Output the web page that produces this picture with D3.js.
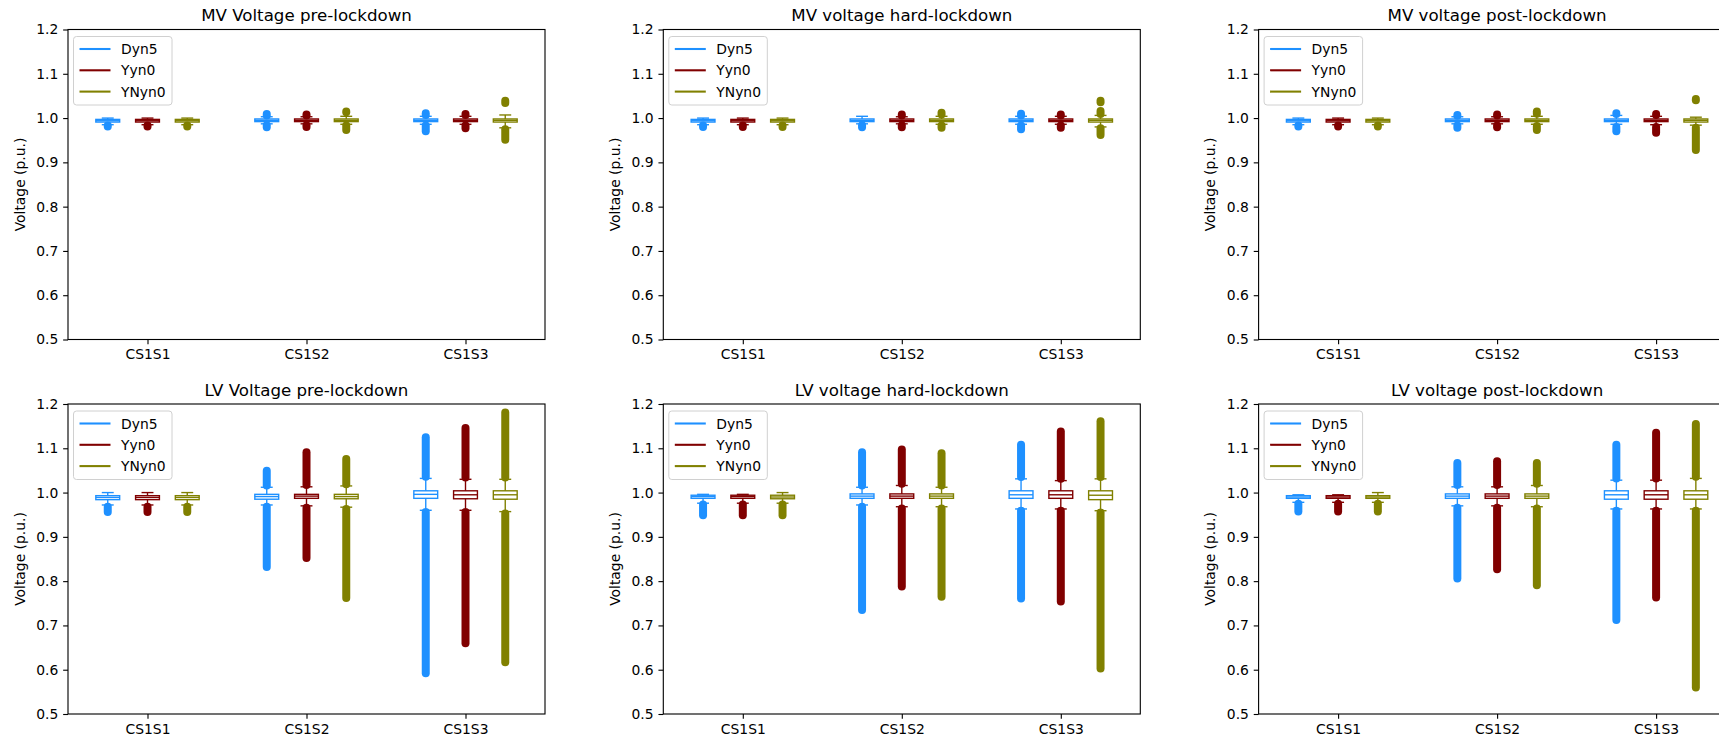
<!DOCTYPE html>
<html>
<head>
<meta charset="utf-8">
<script src="https://cdn.jsdelivr.net/npm/d3@7"></script>
<style>
  body { margin: 0; background: #fff; }
  svg { display: block; }
  text { font-family: "DejaVu Sans", sans-serif; fill: #000; }
</style>
</head>
<body>
<svg id="fig" width="1719" height="740"></svg>
<script>
// ---- data -------------------------------------------------------------
const categories = ["CS1S1", "CS1S2", "CS1S3"];
const transformers = ["Dyn5", "Yyn0", "YNyn0"];
const seriesColors = ["#1e90ff", "#800000", "#808000"];
const yTicks = [0.5, 0.6, 0.7, 0.8, 0.9, 1.0, 1.1, 1.2];
const panelTitles = [
  "MV Voltage pre-lockdown", "MV voltage hard-lockdown", "MV voltage post-lockdown",
  "LV Voltage pre-lockdown", "LV voltage hard-lockdown", "LV voltage post-lockdown"
];

// box statistics: [category, transformer, whiskerLow, q1, median, q3, whiskerHigh]
const mvPreBoxes = [
  [0, 0, 0.985, 0.991, 0.994, 0.997, 1.000],
  [0, 1, 0.985, 0.991, 0.994, 0.997, 1.000],
  [0, 2, 0.985, 0.991, 0.994, 0.997, 1.000],
  [1, 0, 0.987, 0.992, 0.995, 0.998, 1.003],
  [1, 1, 0.987, 0.992, 0.995, 0.998, 1.003],
  [1, 2, 0.986, 0.992, 0.995, 0.998, 1.004],
  [2, 0, 0.986, 0.992, 0.995, 0.998, 1.004],
  [2, 1, 0.986, 0.992, 0.995, 0.998, 1.004],
  [2, 2, 0.978, 0.991, 0.995, 0.998, 1.007]
];
const mvHardBoxes = [
  [0, 0, 0.985, 0.991, 0.994, 0.997, 1.000],
  [0, 1, 0.985, 0.991, 0.994, 0.997, 1.000],
  [0, 2, 0.985, 0.991, 0.994, 0.997, 1.000],
  [1, 0, 0.987, 0.992, 0.995, 0.998, 1.004],
  [1, 1, 0.987, 0.992, 0.995, 0.998, 1.003],
  [1, 2, 0.986, 0.992, 0.995, 0.998, 1.004],
  [2, 0, 0.986, 0.992, 0.995, 0.998, 1.004],
  [2, 1, 0.986, 0.992, 0.995, 0.998, 1.004],
  [2, 2, 0.980, 0.991, 0.995, 0.998, 1.006]
];
const mvPostBoxes = [
  [0, 0, 0.985, 0.991, 0.994, 0.997, 1.000],
  [0, 1, 0.985, 0.991, 0.994, 0.997, 1.000],
  [0, 2, 0.985, 0.991, 0.994, 0.997, 1.000],
  [1, 0, 0.987, 0.992, 0.995, 0.998, 1.003],
  [1, 1, 0.987, 0.992, 0.995, 0.998, 1.003],
  [1, 2, 0.986, 0.992, 0.995, 0.998, 1.004],
  [2, 0, 0.986, 0.992, 0.995, 0.998, 1.006],
  [2, 1, 0.985, 0.992, 0.995, 0.998, 1.004],
  [2, 2, 0.984, 0.991, 0.995, 0.998, 1.002]
];
const lvPreBoxes = [
  [0, 0, 0.972, 0.984, 0.989, 0.993, 1.000],
  [0, 1, 0.972, 0.984, 0.989, 0.993, 1.000],
  [0, 2, 0.972, 0.984, 0.989, 0.993, 1.000],
  [1, 0, 0.972, 0.985, 0.991, 0.996, 1.012],
  [1, 1, 0.970, 0.987, 0.992, 0.996, 1.013],
  [1, 2, 0.967, 0.986, 0.991, 0.996, 1.015],
  [2, 0, 0.960, 0.987, 0.996, 1.004, 1.032],
  [2, 1, 0.960, 0.986, 0.995, 1.004, 1.030],
  [2, 2, 0.957, 0.985, 0.995, 1.004, 1.030]
];
const lvHardBoxes = [
  [0, 0, 0.976, 0.987, 0.991, 0.994, 0.996],
  [0, 1, 0.976, 0.987, 0.991, 0.994, 0.996],
  [0, 2, 0.976, 0.986, 0.990, 0.994, 1.000],
  [1, 0, 0.972, 0.987, 0.992, 0.997, 1.012],
  [1, 1, 0.968, 0.987, 0.992, 0.997, 1.016],
  [1, 2, 0.968, 0.987, 0.992, 0.997, 1.012],
  [2, 0, 0.963, 0.987, 0.995, 1.004, 1.031],
  [2, 1, 0.963, 0.987, 0.995, 1.004, 1.027],
  [2, 2, 0.959, 0.984, 0.994, 1.004, 1.031]
];
const lvPostBoxes = [
  [0, 0, 0.978, 0.987, 0.990, 0.993, 0.995],
  [0, 1, 0.978, 0.987, 0.990, 0.993, 0.995],
  [0, 2, 0.978, 0.987, 0.990, 0.993, 1.000],
  [1, 0, 0.970, 0.987, 0.992, 0.997, 1.013],
  [1, 1, 0.970, 0.987, 0.992, 0.997, 1.013],
  [1, 2, 0.968, 0.987, 0.992, 0.997, 1.016],
  [2, 0, 0.963, 0.985, 0.995, 1.004, 1.028],
  [2, 1, 0.963, 0.985, 0.995, 1.004, 1.028],
  [2, 2, 0.963, 0.985, 0.995, 1.004, 1.032]
];

// outlier runs (dense flier markers): [category, transformer, low, high]
const mvPreOutliers = [
  [0, 0, 0.981, 0.983], [0, 1, 0.981, 0.983], [0, 2, 0.981, 0.983],
  [1, 0, 1.006, 1.009], [1, 0, 0.979, 0.984],
  [1, 1, 1.006, 1.008], [1, 1, 0.980, 0.984],
  [1, 2, 1.013, 1.015], [1, 2, 0.973, 0.983],
  [2, 0, 1.007, 1.011], [2, 0, 0.970, 0.983],
  [2, 1, 1.007, 1.009], [2, 1, 0.977, 0.983],
  [2, 2, 1.034, 1.039], [2, 2, 0.951, 0.975]
];
const mvHardOutliers = [
  [0, 0, 0.980, 0.983], [0, 1, 0.980, 0.983], [0, 2, 0.980, 0.983],
  [1, 0, 0.979, 0.984],
  [1, 1, 1.006, 1.008], [1, 1, 0.979, 0.984],
  [1, 2, 1.008, 1.012], [1, 2, 0.978, 0.983],
  [2, 0, 1.006, 1.010], [2, 0, 0.975, 0.983],
  [2, 1, 1.006, 1.008], [2, 1, 0.978, 0.983],
  [2, 2, 1.036, 1.039], [2, 2, 1.009, 1.016], [2, 2, 0.962, 0.977]
];
const mvPostOutliers = [
  [0, 0, 0.981, 0.983], [0, 1, 0.981, 0.983], [0, 2, 0.981, 0.983],
  [1, 0, 1.005, 1.007], [1, 0, 0.978, 0.983],
  [1, 1, 1.006, 1.008], [1, 1, 0.979, 0.983],
  [1, 2, 1.010, 1.015], [1, 2, 0.973, 0.982],
  [2, 0, 1.009, 1.011], [2, 0, 0.970, 0.980],
  [2, 1, 1.007, 1.009], [2, 1, 0.967, 0.980],
  [2, 2, 1.040, 1.043], [2, 2, 0.928, 0.978]
];
const lvPreOutliers = [
  [0, 0, 0.956, 0.968], [0, 1, 0.956, 0.968], [0, 2, 0.956, 0.968],
  [1, 0, 1.016, 1.049], [1, 0, 0.832, 0.968],
  [1, 1, 1.017, 1.091], [1, 1, 0.852, 0.966],
  [1, 2, 1.019, 1.076], [1, 2, 0.762, 0.963],
  [2, 0, 1.036, 1.125], [2, 0, 0.592, 0.956],
  [2, 1, 1.034, 1.146], [2, 1, 0.660, 0.956],
  [2, 2, 1.034, 1.181], [2, 2, 0.617, 0.953]
];
const lvHardOutliers = [
  [0, 0, 0.949, 0.973], [0, 1, 0.949, 0.973], [0, 2, 0.949, 0.973],
  [1, 0, 1.016, 1.091], [1, 0, 0.735, 0.968],
  [1, 1, 1.020, 1.097], [1, 1, 0.788, 0.964],
  [1, 2, 1.016, 1.089], [1, 2, 0.765, 0.964],
  [2, 0, 1.035, 1.108], [2, 0, 0.761, 0.959],
  [2, 1, 1.031, 1.138], [2, 1, 0.754, 0.959],
  [2, 2, 1.035, 1.161], [2, 2, 0.603, 0.955]
];
const lvPostOutliers = [
  [0, 0, 0.957, 0.975], [0, 1, 0.957, 0.975], [0, 2, 0.957, 0.975],
  [1, 0, 1.017, 1.067], [1, 0, 0.806, 0.966],
  [1, 1, 1.017, 1.071], [1, 1, 0.827, 0.966],
  [1, 2, 1.020, 1.067], [1, 2, 0.791, 0.964],
  [2, 0, 1.032, 1.108], [2, 0, 0.712, 0.959],
  [2, 1, 1.032, 1.135], [2, 1, 0.763, 0.959],
  [2, 2, 1.036, 1.155], [2, 2, 0.560, 0.959]
];

const panelBoxes = [mvPreBoxes, mvHardBoxes, mvPostBoxes, lvPreBoxes, lvHardBoxes, lvPostBoxes];
const panelOutliers = [mvPreOutliers, mvHardOutliers, mvPostOutliers, lvPreOutliers, lvHardOutliers, lvPostOutliers];

// ---- layout -----------------------------------------------------------
const PT = 100 / 72;                 // one point in pixels
const colLeft = [68, 663.3, 1258.6];
const rowTop = [29.5, 404];
const axW = 477, axH = 310;
const groupOffset = [-0.25, 0, 0.25];
const boxWidth = 0.15;
const fontTick = 10 * PT, fontTitle = 12 * PT;

const svg = d3.select("#fig");

panelTitles.forEach((title, p) => {
  const left = colLeft[p % 3], top = rowTop[Math.floor(p / 3)];
  const x = d3.scaleLinear().domain([0.5, 3.5]).range([left, left + axW]);
  const y = d3.scaleLinear().domain([0.5, 1.2]).range([top + axH, top]);
  const g = svg.append("g");

  // boxes
  const bw = x(boxWidth) - x(0);
  panelBoxes[p].forEach(([c, t, wLo, q1, med, q3, wHi]) => {
    const cx = x(c + 1 + groupOffset[t]);
    const col = seriesColors[t];
    const bg = g.append("g").attr("stroke", col).attr("stroke-width", 1 * PT).attr("fill", "none");
    bg.append("rect").attr("x", cx - bw / 2).attr("width", bw)
      .attr("y", y(q3)).attr("height", Math.max(0.01, y(q1) - y(q3)));
    bg.append("line").attr("x1", cx - bw / 2).attr("x2", cx + bw / 2).attr("y1", y(med)).attr("y2", y(med));
    bg.append("line").attr("x1", cx).attr("x2", cx).attr("y1", y(q3)).attr("y2", y(wHi));
    bg.append("line").attr("x1", cx).attr("x2", cx).attr("y1", y(q1)).attr("y2", y(wLo));
    [wLo, wHi].forEach(v => bg.append("line")
      .attr("x1", cx - bw / 4).attr("x2", cx + bw / 4).attr("y1", y(v)).attr("y2", y(v)));
  });

  // outlier markers, packed densely into runs
  panelOutliers[p].forEach(([c, t, lo, hi]) => {
    const cx = x(c + 1 + groupOffset[t]);
    g.append("path")
      .attr("d", `M${cx},${y(hi)}L${cx},${y(lo)}`)
      .attr("stroke", seriesColors[t]).attr("stroke-width", 8)
      .attr("stroke-linecap", "round").attr("fill", "none");
  });

  // axes
  const yAxis = d3.axisLeft(y).tickValues(yTicks).tickFormat(d3.format(".1f"))
    .tickSizeInner(3.5 * PT).tickSizeOuter(0).tickPadding(3.5 * PT);
  const xAxis = d3.axisBottom(x).tickValues([1, 2, 3]).tickFormat(d => categories[d - 1])
    .tickSizeInner(3.5 * PT).tickSizeOuter(0).tickPadding(3.5 * PT);
  [[yAxis, `translate(${left},0)`], [xAxis, `translate(0,${top + axH})`]].forEach(([ax, tr]) => {
    const a = g.append("g").attr("transform", tr).call(ax);
    a.select(".domain").remove();
    a.selectAll(".tick line").attr("stroke", "#000").attr("stroke-width", 0.8 * PT);
    a.selectAll(".tick text").attr("font-size", fontTick).attr("fill", "#000")
      .style("font-family", '"DejaVu Sans", sans-serif');
  });

  // frame
  g.append("rect").attr("x", left).attr("y", top).attr("width", axW).attr("height", axH)
    .attr("fill", "none").attr("stroke", "#000").attr("stroke-width", 0.8 * PT);

  // title and y label
  g.append("text").attr("x", left + axW / 2).attr("y", top - 6 * PT)
    .attr("text-anchor", "middle").attr("font-size", fontTitle).text(title);
  g.append("text")
    .attr("transform", `translate(${left - 43.5},${top + axH / 2}) rotate(-90)`)
    .attr("text-anchor", "middle").attr("font-size", fontTick).text("Voltage (p.u.)");

  // legend
  const lg = g.append("g").attr("transform", `translate(${left + 5.5},${top + 7})`);
  lg.append("rect").attr("width", 98.5).attr("height", 68.5).attr("rx", 3)
    .attr("fill", "#fff").attr("fill-opacity", 0.8).attr("stroke", "#d0d0d0").attr("stroke-width", 1);
  transformers.forEach((name, i) => {
    const ly = 12.5 + i * 21.3;
    lg.append("line").attr("x1", 6).attr("x2", 37).attr("y1", ly).attr("y2", ly)
      .attr("stroke", seriesColors[i]).attr("stroke-width", 1.5 * PT);
    lg.append("text").attr("x", 47.5).attr("y", ly).attr("dy", "0.36em")
      .attr("font-size", fontTick).text(name);
  });
});
</script>
</body>
</html>
